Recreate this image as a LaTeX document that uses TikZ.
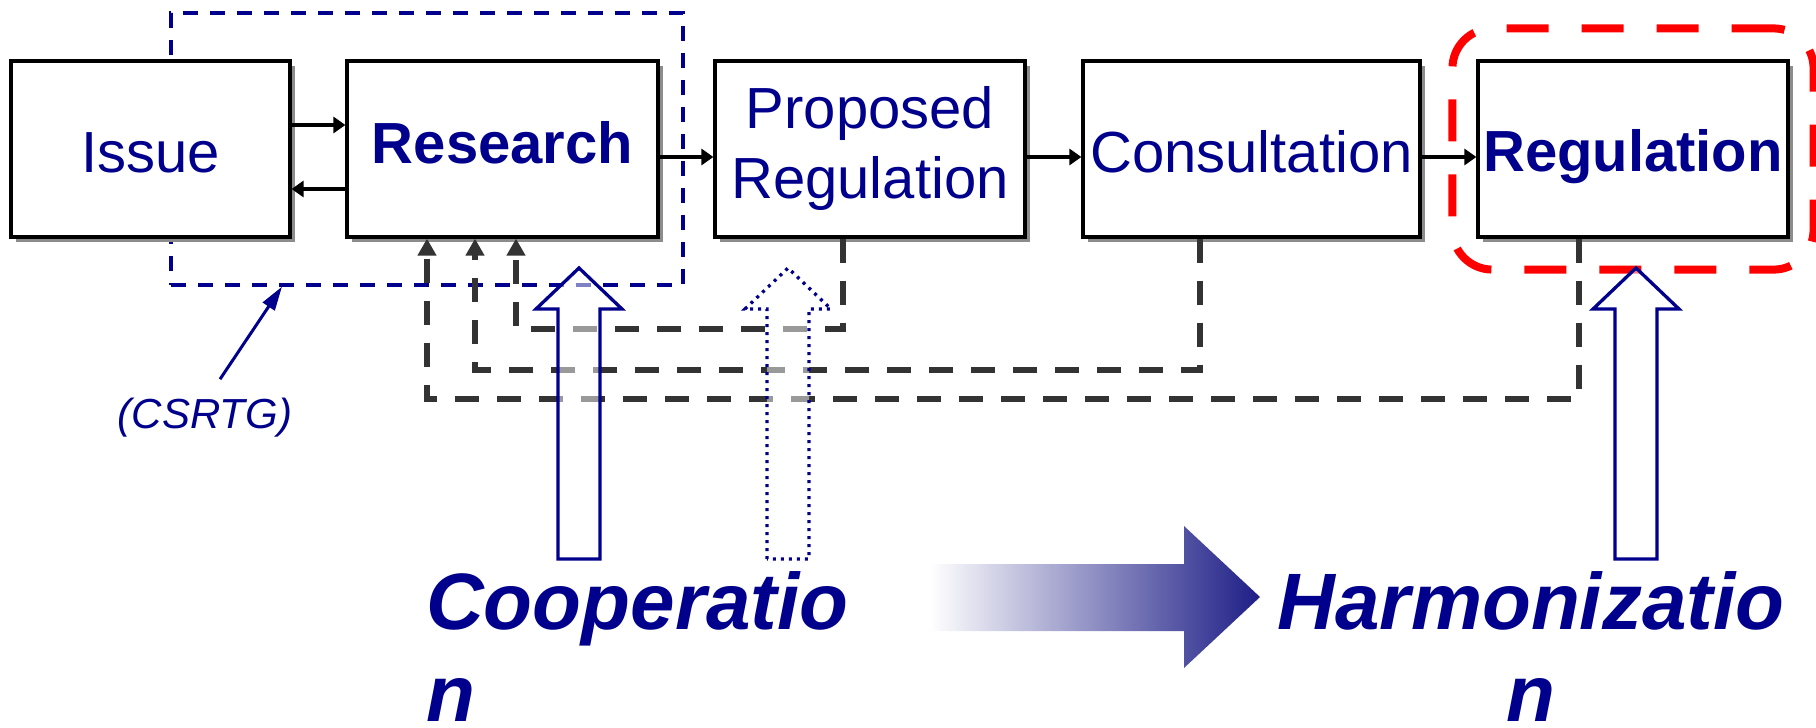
\documentclass[tikz,border=0pt]{standalone}
\usepackage{fontspec}
\setmainfont{Liberation Sans}
\usetikzlibrary{arrows.meta,shadows,fit}
\definecolor{ink}{RGB}{0,0,140}
\definecolor{fbgray}{RGB}{51,51,51}
\definecolor{shadowgray}{RGB}{140,140,140}
\definecolor{flowblue}{RGB}{30,30,135}
\newcommand{\boxstrut}{\rule[-12pt]{0pt}{70pt}}
\newcommand{\highstrut}{\rule[-14pt]{0pt}{10pt}}

\begin{document}
\begin{tikzpicture}[x=1pt,y=-1pt,
    stage/.style={draw, line width=3.2pt, fill=white, minimum height=176pt, inner sep=0pt,
        text=ink, align=center, font=\fontsize{58}{70}\selectfont,
        execute at begin node=#1,
        drop shadow={shadow xshift=5pt, shadow yshift=-5pt, fill=shadowgray, opacity=1}},
    stage/.default=\boxstrut,
    flow/.style={line width=4.5pt, -{Triangle[length=12pt,width=16pt]}},
    feedback/.style={draw=fbgray, line width=6pt, dash pattern=on 24pt off 18pt,
        -{Triangle[length=17pt,width=18pt,fill=fbgray]}},
    group/.style={draw=ink, line width=3.3pt, dash pattern=on 15pt off 12pt, inner sep=0pt},
    focus/.style={draw=red, line width=8pt, dash pattern=on 42pt off 33pt, rounded corners=40pt},
    hollow/.style={draw=ink, line width=3.3pt, fill=white, fill opacity=0.5},
    dotty/.style={dash pattern=on 3pt off 5pt},
    big/.style={text=ink, inner sep=0pt, font=\fontsize{80}{92}\selectfont\bfseries\itshape}]
    \useasboundingbox (0,0) rectangle (1816,728);

    % group round issue and research
    \node[group, minimum width=512pt, minimum height=272pt] (csrtg) at (427,149) {};

    \node[stage, minimum width=279pt] (issue) at (150.5,149) {Issue};
    \node[stage=\highstrut, minimum width=311pt] (research) at (502.5,149) {\bfseries Research};
    \node[stage, minimum width=310pt] (proposed) at (870,149) {Proposed\\Regulation};
    \node[stage, minimum width=337pt] (consult) at (1251.5,149) {Consultation};
    \node[stage, minimum width=310pt] (regul) at (1633,149) {\bfseries Regulation};
    \node[focus, fit=(regul), inner xsep=24pt, inner ysep=31pt] (target) {};

    \draw[flow] ([yshift=24pt]issue.east) -- ([yshift=24pt]research.west);
    \draw[flow] ([yshift=-40pt]research.west) -- ([yshift=-40pt]issue.east);
    \draw[flow] ([yshift=-8pt]research.east) -- ([yshift=-8pt]proposed.west);
    \draw[flow] ([yshift=-8pt]proposed.east) -- ([yshift=-8pt]consult.west);
    \draw[flow] ([yshift=-8pt]consult.east) -- ([yshift=-8pt]regul.west);

    % feedback to research
    \draw[feedback] ([xshift=-27pt]proposed.south) -- ++(0,90) -| ([xshift=13.5pt]research.south);
    \draw[feedback] ([xshift=-51.5pt]consult.south) -- ++(0,131) -| ([xshift=-27.5pt]research.south);
    \draw[feedback] ([xshift=-54pt]regul.south) -- ++(0,160) -| ([xshift=-75.5pt]research.south);

    \node[text=ink, inner sep=2pt, font=\fontsize{42}{50}\selectfont\itshape] (csrtglab) at (205,418) {(CSRTG)};
    \draw[ink, line width=3pt, -{Triangle[length=24pt,width=14pt]}]
        ([xshift=15pt,yshift=17pt]csrtglab.north) -- ([xshift=-145pt]csrtg.south);

    \foreach \x/\sty in {579/solid, 788/dotty, 1636/solid}
        \draw[hollow,\sty] (\x-21,559) -- (\x-21,309) -- (\x-43,309) -- (\x,268)
            -- (\x+43,309) -- (\x+21,309) -- (\x+21,559) -- cycle;

    \node[big, anchor=north west, align=left] (coop) at (426,571) {Cooperatio\\n};
    \node[big, anchor=north, align=center] (harm) at (1531,571) {Harmonizatio\\n};
    \shade[left color=white, right color=flowblue] (930,564) -- (1184,564) -- (1184,526)
        -- (1260,597) -- (1184,668) -- (1184,631) -- (930,631) -- cycle;
\end{tikzpicture}
\end{document}
